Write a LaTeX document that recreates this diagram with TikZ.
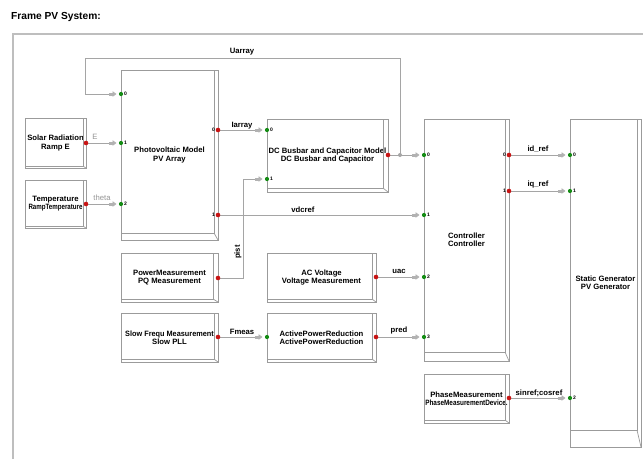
\documentclass[tikz,border=0pt]{standalone}
\usepackage{fontspec}
\setmainfont{Liberation Sans}
\usetikzlibrary{arrows.meta}
\definecolor{boxgray}{RGB}{155,155,155}
\definecolor{framegray}{RGB}{190,190,190}
\definecolor{linegray}{RGB}{165,165,165}
\definecolor{tipgray}{RGB}{178,178,178}
\definecolor{portred}{RGB}{200,20,20}
\definecolor{portgreen}{RGB}{20,140,20}
\definecolor{lblgray}{RGB}{150,150,150}
\newcommand\bevel[3]{%
  \draw[boxgray,line width=0.7pt] ([xshift=-#2pt]#1.north east) -- ([xshift=-#2pt,yshift=#3pt]#1.south east) -- ([yshift=#3pt]#1.south west);
  \draw[boxgray,line width=0.7pt] ([xshift=-#2pt,yshift=#3pt]#1.south east) -- (#1.south east);}
\begin{document}
\begin{tikzpicture}[x=1pt,y=-1pt,
  block/.style={draw=boxgray, line width=0.8pt, fill=white, inner sep=0pt, outer sep=0pt,
    align=center, font=\fontsize{7.7}{8.2}\selectfont\bfseries},
  wire/.style={draw=linegray, line width=0.9pt},
  sig/.style={wire, -{Rectangle[length=3.5pt,width=3pt,fill=tipgray,color=tipgray]Triangle[length=4pt,width=5.5pt,fill=tipgray,color=tipgray]}, shorten >=4.5pt},
  lbl/.style={font=\fontsize{7.7}{8}\selectfont\bfseries, inner sep=0pt},
  glbl/.style={lbl, text=lblgray, font=\fontsize{7.7}{8}\selectfont},
  pnum/.style={font=\fontsize{5}{5}\selectfont\bfseries, inner sep=0pt},
  title/.style={font=\fontsize{10.2}{12}\selectfont\bfseries, inner sep=0pt, anchor=west},
  frameline/.style={draw=framegray, line width=1.3pt}
]
\useasboundingbox[fill=white] (0,0) rectangle (643,459);
\node[title] (title) at (11,17) {Frame PV System:};
\draw[frameline] (13,459) -- (13,34) -- (643,34);

% blocks
\node[block, minimum width=61, minimum height=50] (sol) at (55.5,143) {Solar Radiation\\Ramp E};
\node[block, minimum width=61, minimum height=48] (temp) at (55.5,204) {Temperature\\\scalebox{0.8}[1]{RampTemperature}};
\node[block, minimum width=97, minimum height=170] (pv) at (169.5,155) {Photovoltaic Model\\PV Array};
\node[block, minimum width=121, minimum height=73] (dc) at (327.5,155.5) {DC Busbar and Capacitor Model\\DC Busbar and Capacitor};
\node[block, minimum width=85, minimum height=242] (ctrl) at (466.5,240) {Controller\\Controller};
\node[block, minimum width=71, minimum height=328] (sg) at (605.5,283) {Static Generator\\PV Generator};
\node[block, minimum width=97, minimum height=49] (pq) at (169.5,277.5) {PowerMeasurement\\PQ Measurement};
\node[block, minimum width=109, minimum height=49] (acv) at (321.5,277.5) {AC Voltage\\Voltage Measurement};
\node[block, minimum width=97, minimum height=49] (pll) at (169.5,337.5) {\scalebox{0.95}[1]{Slow Frequ Measurement}\\Slow PLL};
\node[block, minimum width=109, minimum height=49] (apr) at (321.5,337.5) {ActivePowerReduction\\ActivePowerReduction};
\node[block, minimum width=85, minimum height=49] (pm) at (466.5,398.5) {PhaseMeasurement\\\scalebox{0.83}[1]{PhaseMeasurementDevice.}};

\bevel{sol}{3}{2}
\bevel{temp}{3}{2}
\bevel{pv}{4}{7}
\bevel{dc}{5}{4}
\bevel{ctrl}{4}{9}
\bevel{sg}{4}{17}
\bevel{pq}{5}{3}
\bevel{acv}{4}{3}
\bevel{pll}{4}{3}
\bevel{apr}{4}{3}
\bevel{pm}{4}{3}

% ports
\coordinate (sol-o) at (sol.east);
\coordinate (temp-o) at (temp.east);
\coordinate (pv-i0) at (pv.west |- 0,94);
\coordinate (pv-i1) at (pv.west |- 0,143);
\coordinate (pv-i2) at (pv.west |- 0,204);
\coordinate (pv-o0) at (pv.east |- 0,130);
\coordinate (pv-o1) at (pv.east |- 0,215);
\coordinate (dc-i0) at (dc.west |- 0,130);
\coordinate (dc-i1) at (dc.west |- 0,179);
\coordinate (dc-o) at (dc.east |- 0,155);
\coordinate (jn) at (400,155);
\coordinate (fb) at (85,58);
\coordinate (pc) at (243,179);
\coordinate (ctrl-i0) at (ctrl.west |- 0,155);
\coordinate (ctrl-i1) at (ctrl.west |- 0,215);
\coordinate (ctrl-i2) at (ctrl.west |- 0,277);
\coordinate (ctrl-i3) at (ctrl.west |- 0,337);
\coordinate (ctrl-o0) at (ctrl.east |- 0,155);
\coordinate (ctrl-o1) at (ctrl.east |- 0,191);
\coordinate (sg-i0) at (sg.west |- 0,155);
\coordinate (sg-i1) at (sg.west |- 0,191);
\coordinate (sg-i2) at (sg.west |- 0,398);
\coordinate (pq-o) at (pq.east |- 0,278);
\coordinate (acv-o) at (acv.east |- 0,277);
\coordinate (pll-o) at (pll.east |- 0,337);
\coordinate (apr-i) at (apr.west |- 0,337);
\coordinate (apr-o) at (apr.east |- 0,337);
\coordinate (pm-o) at (pm.east |- 0,398);

% connectors
\draw[wire] (dc-o) -- (jn);
\draw[sig] (jn) -- (ctrl-i0);
\draw[sig] (jn) |- (fb) |- (pv-i0);
\draw[sig] (sol-o) -- (pv-i1);
\draw[sig] (temp-o) -- (pv-i2);
\draw[sig] (pv-o0) -- (dc-i0);
\draw[sig] (pq-o) -| (pc) -- (dc-i1);
\draw[sig] (pv-o1) -- (ctrl-i1);
\draw[sig] (acv-o) -- (ctrl-i2);
\draw[sig] (pll-o) -- (apr-i);
\draw[sig] (apr-o) -- (ctrl-i3);
\draw[sig] (ctrl-o0) -- (sg-i0);
\draw[sig] (ctrl-o1) -- (sg-i1);
\draw[sig] (pm-o) -- (sg-i2);
\fill[linegray] (jn) circle (2);

% connector labels
\node[lbl] (l-uarray) at (242,52) {Uarray};
\node[lbl] (l-iarray) at (242,126) {Iarray};
\node[lbl] (l-vdcref) at (303,210) {vdcref};
\node[lbl] (l-idref) at (538,149) {id\_ref};
\node[lbl] (l-iqref) at (538,185) {iq\_ref};
\node[lbl] (l-uac) at (399,271) {uac};
\node[lbl] (l-pred) at (399,331) {pred};
\node[lbl] (l-fmeas) at (242,332) {Fmeas};
\node[lbl] (l-sincos) at (539,393) {sinref;cosref};
\node[lbl, rotate=90] (l-pist) at (238,252) {pist};
\node[glbl] (l-e) at (95,137) {E};
\node[glbl] (l-theta) at (102,198) {theta};

% port dots
\foreach \p in {sol-o,temp-o,pv-o0,pv-o1,dc-o,ctrl-o0,ctrl-o1,pq-o,acv-o,pll-o,apr-o,pm-o}
  \fill[portred] (\p) circle (2.3);
\foreach \p in {pv-i0,pv-i1,pv-i2,dc-i0,dc-i1,ctrl-i0,ctrl-i1,ctrl-i2,ctrl-i3,sg-i0,sg-i1,sg-i2,apr-i}
  \fill[portgreen] (\p) circle (2.1);

% port numbers
\node[pnum, anchor=west] (n-pv0) at ([xshift=3pt]pv-i0) {0};
\node[pnum, anchor=west] (n-pv1) at ([xshift=3pt]pv-i1) {1};
\node[pnum, anchor=west] (n-pv2) at ([xshift=3pt]pv-i2) {2};
\node[pnum, anchor=east] (n-pvo0) at ([xshift=-3pt]pv-o0) {0};
\node[pnum, anchor=east] (n-pvo1) at ([xshift=-3pt]pv-o1) {1};
\node[pnum, anchor=west] (n-dc0) at ([xshift=3pt]dc-i0) {0};
\node[pnum, anchor=west] (n-dc1) at ([xshift=3pt]dc-i1) {1};
\node[pnum, anchor=west] (n-c0) at ([xshift=3pt]ctrl-i0) {0};
\node[pnum, anchor=west] (n-c1) at ([xshift=3pt]ctrl-i1) {1};
\node[pnum, anchor=west] (n-c2) at ([xshift=3pt]ctrl-i2) {2};
\node[pnum, anchor=west] (n-c3) at ([xshift=3pt]ctrl-i3) {3};
\node[pnum, anchor=east] (n-co0) at ([xshift=-3pt]ctrl-o0) {0};
\node[pnum, anchor=east] (n-co1) at ([xshift=-3pt]ctrl-o1) {1};
\node[pnum, anchor=west] (n-s0) at ([xshift=3pt]sg-i0) {0};
\node[pnum, anchor=west] (n-s1) at ([xshift=3pt]sg-i1) {1};
\node[pnum, anchor=west] (n-s2) at ([xshift=3pt]sg-i2) {2};
\end{tikzpicture}
\end{document}
